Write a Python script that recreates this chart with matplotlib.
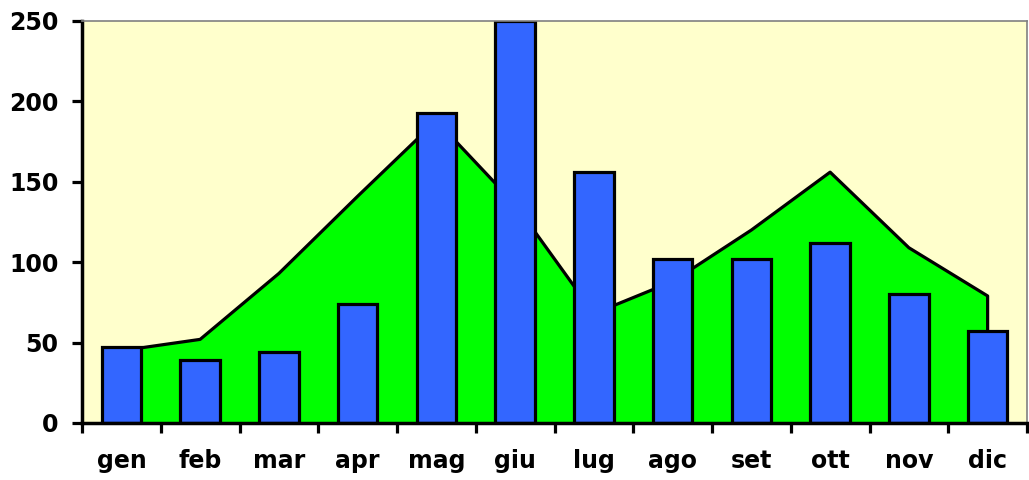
import numpy as np
import matplotlib.pyplot as plt

mesi = ['gen', 'feb', 'mar', 'apr', 'mag', 'giu', 'lug', 'ago', 'set', 'ott', 'nov', 'dic']
barre = [47, 39, 44, 74, 193, 250, 156, 102, 102, 112, 80, 57]
area = [45, 52, 93, 141, 188, 136, 68, 88, 120, 156, 109, 79]

x = np.arange(len(mesi))

fig = plt.figure(figsize=(10.29, 4.8), dpi=100)
ax = fig.add_axes([82/1029, 57/480, 945/1029, 402/480])
ax.set_facecolor('#FFFFCC')

# area in background
ax.fill_between(x, 0, area, color='#00FF00', zorder=1, linewidth=0)
ax.plot(np.r_[x, x[-1]], np.r_[area, 0], color='black', linewidth=2.3, zorder=2)

# bars
ax.bar(x, barre, width=0.5, color='#3366FF', edgecolor='black', linewidth=2.3, zorder=3)

ax.set_xlim(-0.5, 11.5)
ax.set_ylim(0, 250)
ax.set_yticks(np.arange(0, 251, 50))
ax.set_xticks(np.arange(-0.5, 12, 1))
ax.set_xticklabels([])
ax.set_xticks(x, minor=True)
ax.set_xticklabels(mesi, minor=True, fontsize=17, fontweight='bold')
ax.tick_params(axis='x', which='minor', length=0, pad=19)
ax.tick_params(axis='x', which='major', length=7, width=2.3, direction='out')
ax.tick_params(axis='y', length=7, width=2.3, pad=10, labelsize=17)
for t in ax.get_yticklabels():
    t.set_fontweight('bold')

ax.spines['left'].set_linewidth(2.5)
ax.spines['bottom'].set_linewidth(2.5)
ax.spines['top'].set_color('gray')
ax.spines['right'].set_color('gray')
ax.spines['top'].set_linewidth(1.2)
ax.spines['right'].set_linewidth(1.2)
for s in ax.spines.values():
    s.set_zorder(5)

plt.savefig('out.png', dpi=100)
